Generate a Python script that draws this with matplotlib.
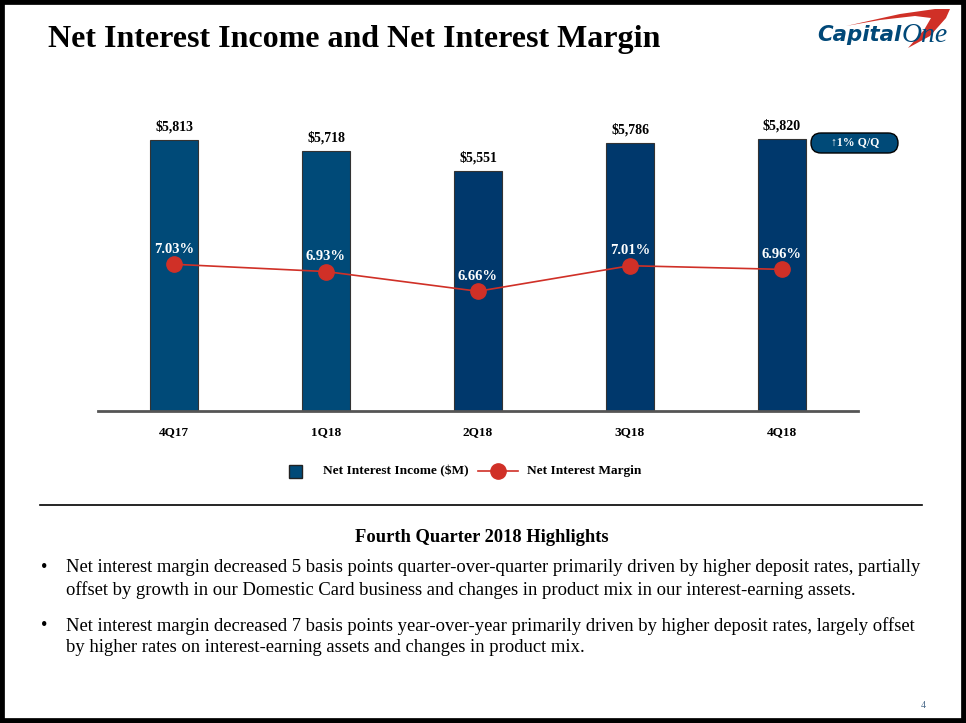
import matplotlib
matplotlib.use("Agg")
import matplotlib.pyplot as plt
from matplotlib.patches import FancyBboxPatch, Rectangle, Polygon
from matplotlib.lines import Line2D
from matplotlib.transforms import IdentityTransform
import numpy as np

categories = ["4Q17", "1Q18", "2Q18", "3Q18", "4Q18"]
nii = [5813, 5718, 5551, 5786, 5820]
nim = [7.03, 6.93, 6.66, 7.01, 6.96]
nii_labels = ["$5,813", "$5,718", "$5,551", "$5,786", "$5,820"]
nim_labels = ["7.03%", "6.93%", "6.66%", "7.01%", "6.96%"]
bar_colors = ["#004a78", "#004a78", "#00386c", "#00386c", "#00386c"]

W, H = 966, 723
fig = plt.figure(figsize=(W / 100, H / 100), dpi=100)
SERIF = ["Liberation Serif", "DejaVu Serif"]

def fx(x):
    return x / W

def fy(y):
    return 1 - y / H

# frame border
fig.add_artist(Rectangle((0, 0), 1, 1, transform=fig.transFigure, fill=False,
                         edgecolor="black", linewidth=7))

# title
fig.text(fx(48), fy(40), "Net Interest Income and Net Interest Margin",
         family=SERIF, fontweight="bold", fontsize=23, va="center", ha="left")

# logo
fig.add_artist(Polygon([[fx(846), fy(26)], [fx(900), fy(14)], [fx(935), fy(9)],
                        [fx(950), fy(9)], [fx(946), fy(18)], [fx(930), fy(36)],
                        [fx(908), fy(48)], [fx(924), fy(30)], [fx(931), fy(18)],
                        [fx(915), fy(16)], [fx(880), fy(20)]],
                       closed=True, transform=fig.transFigure,
                       facecolor="#d03027", edgecolor="none"))
fig.text(fx(817), fy(35), "Capital", family="DejaVu Sans", fontweight="bold",
         style="italic", fontsize=15.3, color="#004878", va="center", ha="left")
fig.text(fx(902), fy(35), "One", family=SERIF, style="italic",
         fontsize=20, color="#004878", va="center", ha="left")

# chart axes
left, right, bottom, top = 98, 858, 411, 100
ax = fig.add_axes([fx(left), fy(bottom), fx(right - left), (bottom - top) / H])
x = np.arange(len(categories))
bars = ax.bar(x, nii, width=0.316, color=bar_colors, edgecolor="#333333",
              linewidth=0.8, zorder=2)
ax.set_xlim(-0.5, 4.5)
ax.set_ylim(3525, 6153)
for s in ["top", "right", "left"]:
    ax.spines[s].set_visible(False)
ax.spines["bottom"].set_color("#555555")
ax.spines["bottom"].set_linewidth(2)
ax.set_yticks([])
ax.set_xticks(x)
ax.set_xticklabels(categories, family=SERIF, fontweight="bold", fontsize=9.5)
ax.tick_params(axis="x", length=0, pad=11)
for xi, v, lab in zip(x, nii, nii_labels):
    ax.annotate(lab, (xi, v), xytext=(0, 5), textcoords="offset points",
                ha="center", va="bottom", family=SERIF, fontweight="bold",
                fontsize=10)

ax2 = ax.twinx()
ax2.set_ylim(5.02, 9.28)
ax2.axis("off")
ax2.plot(x, nim, color="#d03027", linewidth=1.2, marker="o", markersize=11,
         zorder=3)
for xi, v, lab in zip(x, nim, nim_labels):
    ax2.annotate(lab, (xi, v), xytext=(0, 6), textcoords="offset points",
                 ha="center", va="bottom", family=SERIF, fontweight="bold",
                 fontsize=10.5, color="white")

# badge (pixel coordinates, origin bottom-left)
fig.add_artist(FancyBboxPatch((811, H - 153), 87, 20,
                              boxstyle="round,pad=0,rounding_size=10",
                              transform=IdentityTransform(), facecolor="#004a78",
                              edgecolor="black", linewidth=1.0))
fig.text(fx(855), fy(142.5), "\u21911% Q/Q", family=["Liberation Serif", "DejaVu Sans"],
         fontweight="bold", fontsize=8.5, color="white", ha="center", va="center")

# legend (manual)
fig.add_artist(Rectangle((fx(289), fy(478)), fx(13), 13 / H, transform=fig.transFigure,
                         facecolor="#004a78", edgecolor="#222222", linewidth=1))
fig.text(fx(323), fy(471), "Net Interest Income ($M)", family=SERIF,
         fontweight="bold", fontsize=9.6, va="center", ha="left")
fig.add_artist(Line2D([fx(478), fx(518)], [fy(471), fy(471)], transform=fig.transFigure,
                      color="#d03027", linewidth=1.2, marker=None))
fig.add_artist(Line2D([fx(498)], [fy(471)], transform=fig.transFigure,
                      color="#d03027", marker="o", markersize=11))
fig.text(fx(527), fy(471), "Net Interest Margin", family=SERIF,
         fontweight="bold", fontsize=9.6, va="center", ha="left")

# separator
fig.add_artist(Line2D([fx(40), fx(922)], [fy(505), fy(505)], transform=fig.transFigure,
                      color="black", linewidth=1.2))

fig.text(fx(482), fy(537), "Fourth Quarter 2018 Highlights", family=SERIF,
         fontweight="bold", fontsize=13.3, ha="center", va="center")

bullets = [
    ("Net interest margin decreased 5 basis points quarter-over-quarter primarily driven by higher deposit rates, partially",
     "offset by growth in our Domestic Card business and changes in product mix in our interest-earning assets."),
    ("Net interest margin decreased 7 basis points year-over-year primarily driven by higher deposit rates, largely offset",
     "by higher rates on interest-earning assets and changes in product mix."),
]
ys = [(568, 590), (626, 648)]
for (l1, l2), (y1, y2) in zip(bullets, ys):
    fig.text(fx(41), fy(y1), "\u2022", family=SERIF, fontsize=13.4, va="center", ha="left")
    fig.text(fx(66), fy(y1), l1, family=SERIF, fontsize=13.4, va="center", ha="left")
    fig.text(fx(66), fy(y2), l2, family=SERIF, fontsize=13.4, va="center", ha="left")

fig.text(fx(923), fy(706), "4", family=SERIF, fontsize=7, color="#4a6a8a",
         ha="center", va="center")

fig.savefig("out.png", dpi=100)
